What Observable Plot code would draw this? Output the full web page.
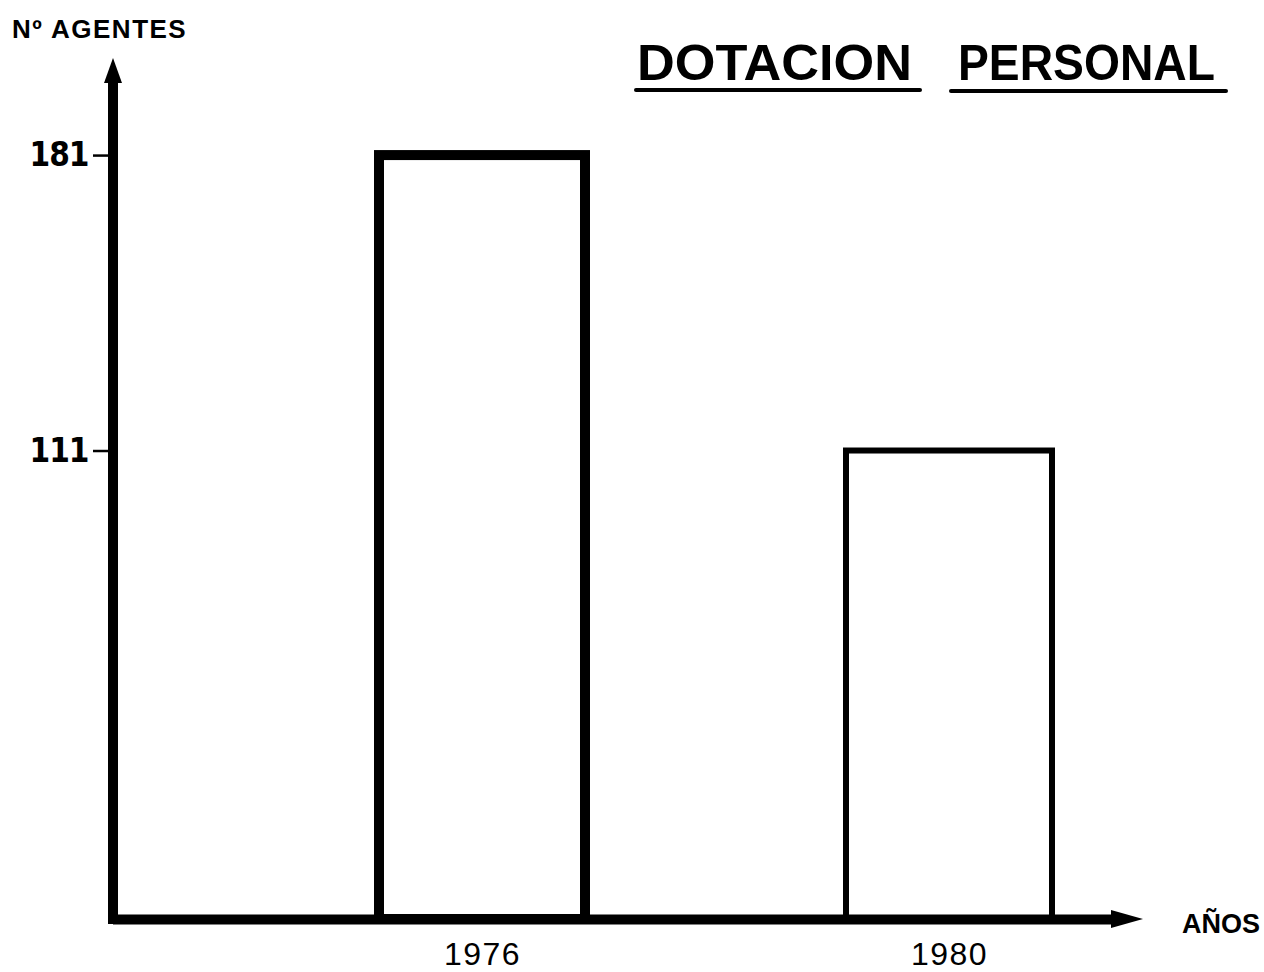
<!DOCTYPE html>
<html><head><meta charset="utf-8">
<script src="https://cdn.jsdelivr.net/npm/d3@7"></script>
<script src="https://cdn.jsdelivr.net/npm/@observablehq/plot@0.6"></script>
<style>body{margin:0;background:#fff} svg{display:block}</style>
</head><body><div id="chart"></div>
<script>
const years = ["1976", "1980"];
const agentes = [181, 111];
const yTicks = [111, 181];
const yMax = 204;
const titleWords = ["DOTACION", "PERSONAL"];
const yLabel = "Nº AGENTES";
const xLabel = "AÑOS";

const data = years.map((year, i) => ({year, agentes: agentes[i]}));
const W = 1264, H = 972;
const mL = 113, mR = 151, mT = 80, mB = 48;
const ink = "#000";
const sans = "'Liberation Sans', Arial, Helvetica, sans-serif";
const narrow = "'Liberation Sans Narrow', 'DejaVu Sans Condensed', 'Liberation Sans', sans-serif";

function axesDecor(index, scales, values, dims) {
  const g = d3.create("svg:g");
  const x0 = dims.marginLeft;
  const yTip = scales.y(yMax);
  const y0 = scales.y(0);
  const yEnd = dims.height - dims.marginBottom;
  g.append("line").attr("x1", x0).attr("x2", x0).attr("y1", yTip + 20).attr("y2", yEnd)
    .attr("stroke", ink).attr("stroke-width", 10);
  g.append("path").attr("d", `M${x0},${yTip}L${x0 + 9},${yTip + 25}L${x0 - 9},${yTip + 25}Z`).attr("fill", ink);
  const xb = dims.width - dims.marginRight;
  g.append("path").attr("d", `M${xb + 30},${y0}L${xb - 2},${y0 - 9}L${xb - 2},${y0 + 9}Z`).attr("fill", ink);
  return g.node();
}

const svg = Plot.plot({
  width: W, height: H,
  marginLeft: mL, marginRight: mR, marginTop: mT, marginBottom: mB,
  x: {type: "band", domain: years, range: [379, 1052], paddingInner: 0.559, paddingOuter: 0, label: null},
  y: {domain: [0, yMax], range: [919, 58], label: null},
  style: {background: "#fff", color: ink, overflow: "visible"},
  marks: [
    Plot.barY(data.filter((d, i) => i === 0), {x: "year", y: "agentes", fill: "none", stroke: ink, strokeWidth: 10}),
    Plot.barY(data.filter((d, i) => i === 1), {x: "year", y: "agentes", fill: "none", stroke: ink, strokeWidth: 6}),
    Plot.ruleY([0], {stroke: ink, strokeWidth: 10}),
    axesDecor,
    Plot.axisY({ticks: yTicks, tickSize: 20, tickPadding: 5, strokeWidth: 2.5, fontSize: 32, label: null}),
    Plot.axisX({tickSize: 0, tickPadding: 18, fontSize: 31, label: null})
  ]
});

const s = d3.select(svg);
s.selectAll('g[aria-label="y-axis tick label"] text')
  .attr("font-family", narrow).attr("font-weight", "bold").attr("font-size", 33)
  .attr("letter-spacing", -1).attr("fill", ink);
s.selectAll('g[aria-label="x-axis tick label"] text')
  .attr("font-family", sans).attr("font-size", 32).attr("letter-spacing", 1.5).attr("fill", ink);

// y label
s.append("text").attr("x", 12).attr("y", 38).text(yLabel).attr("text-anchor", "start")
  .attr("font-family", sans).attr("font-weight", "bold").attr("font-size", 26)
  .attr("letter-spacing", 1.5).attr("fill", ink);
// x label
s.append("text").attr("x", 1182).attr("y", 933).text(xLabel).attr("text-anchor", "start")
  .attr("font-family", sans).attr("font-weight", "bold").attr("font-size", 27).attr("fill", ink);
// title
const tw = [{x: 637, len: 275, u1: 636, u2: 920, uy: 90}, {x: 958, len: 257, u1: 951, u2: 1226, uy: 91}];
titleWords.forEach((w, i) => {
  s.append("text").attr("x", tw[i].x).attr("y", 80).text(w).attr("text-anchor", "start")
    .attr("font-family", sans).attr("font-weight", "bold").attr("font-size", 50)
    .attr("textLength", tw[i].len).attr("lengthAdjust", "spacingAndGlyphs").attr("fill", ink);
  s.append("line").attr("x1", tw[i].u1).attr("x2", tw[i].u2).attr("y1", tw[i].uy).attr("y2", tw[i].uy)
    .attr("stroke", ink).attr("stroke-width", 4).attr("stroke-linecap", "round");
});

document.getElementById("chart").append(svg);
</script>
</body></html>
